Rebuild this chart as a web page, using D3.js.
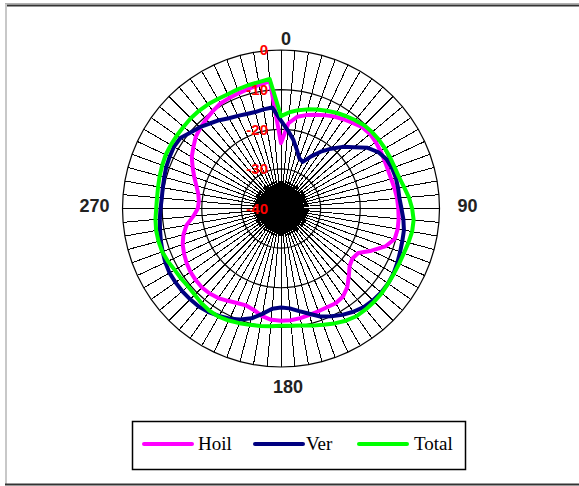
<!DOCTYPE html>
<html>
<head>
<meta charset="utf-8">
<script src="https://cdn.jsdelivr.net/npm/d3@7"></script>
<style>
  body { margin: 0; background: #fff; }
  svg { display: block; }
</style>
</head>
<body>
<div id="chart"></div>
<script>
// angles in degrees, one point every 5 deg
const angles = d3.range(0, 360, 5);

const hoil = [
  -23.5, -18.4, -16.5, -15.6, -14.8, -14.0, -13.2, -12.5, -11.8, -11.0, -10.7, -10.8,
  -11.0, -11.2, -11.3, -11.2, -10.9, -10.6, -10.4, -10.2, -10.1, -10.3, -12.0, -14.8,
  -17.5, -18.0, -17.4, -15.8, -14.0, -12.8, -12.4, -12.5, -12.4, -12.2, -11.9, -11.7,
  -11.7, -11.8, -12.4, -13.5, -14.0, -13.7, -13.1, -12.4, -12.0, -11.8, -11.9, -12.1,
  -12.5, -13.0, -13.6, -14.5, -15.8, -17.8, -19.0, -19.2, -18.8, -17.9, -16.7, -15.4,
  -14.0, -13.0, -11.9, -11.2, -10.6, -10.0, -9.4, -9.2, -9.0, -8.7, -8.3, -7.8
];

const ver = [
  -17.8, -20.2, -22.3, -24.6, -26.5, -27.0, -24.8, -22.5, -20.3, -18.0, -16.0, -13.3,
  -11.6, -10.6, -10.2, -10.0, -10.0, -10.0, -9.6, -9.0, -8.5, -8.3, -8.0, -7.6,
  -7.2, -7.0, -7.0, -7.2, -7.5, -8.2, -9.0, -10.0, -11.0, -12.5, -13.7, -14.7,
  -15.0, -14.6, -13.0, -11.3, -10.2, -9.3, -8.7, -8.1, -7.7, -7.6, -7.5, -7.5,
  -7.5, -7.8, -8.2, -8.6, -9.0, -9.3, -9.6, -9.8, -9.7, -9.5, -9.2, -9.0,
  -8.8, -9.0, -10.2, -11.0, -12.0, -12.8, -13.7, -14.2, -14.6, -14.8, -14.6, -14.4
];

const total = [
  -16.7, -15.6, -14.8, -14.1, -13.4, -12.8, -12.1, -11.5, -10.9, -10.3, -10.0, -9.8,
  -9.7, -9.6, -9.5, -9.2, -8.5, -7.6, -6.9, -6.4, -6.4, -6.7, -7.0, -7.1,
  -7.1, -7.0, -6.8, -6.75, -6.75, -6.8, -7.3, -8.0, -8.8, -9.4, -10.0, -10.3,
  -10.4, -10.2, -9.9, -9.6, -9.2, -8.8, -8.5, -8.5, -8.8, -9.2, -9.4, -9.2,
  -9.0, -8.5, -8.1, -8.0, -8.0, -8.2, -8.5, -8.6, -8.5, -8.3, -8.1, -7.9,
  -7.9, -7.9, -7.9, -7.8, -7.8, -7.9, -8.1, -8.2, -8.0, -7.8, -7.6, -7.2
];

const radialTicks = [0, -10, -20, -30, -40];
const dirTicks = [0, 90, 180, 270];
const seriesNames = ["Hoil", "Ver", "Total"];
const seriesColors = ["#ff00ff", "#000080", "#00ff00"];

const width = 579, height = 486;
const cx = 281, cy = 208.5, R = 158.5;

const svg = d3.select("#chart")
  .append("svg")
  .attr("width", width)
  .attr("height", height);

// window frame
svg.append("line").attr("x1", 5).attr("x2", width).attr("y1", 3.5).attr("y2", 3.5)
  .attr("stroke", "#b0b0b0").attr("stroke-width", 1);
svg.append("line").attr("x1", 5).attr("x2", width).attr("y1", 5.5).attr("y2", 5.5)
  .attr("stroke", "#333").attr("stroke-width", 2);
svg.append("line").attr("x1", 6).attr("x2", 6).attr("y1", 4).attr("y2", 485)
  .attr("stroke", "#c8c8c8").attr("stroke-width", 2);
svg.append("line").attr("x1", 5).attr("x2", width).attr("y1", 484.5).attr("y2", 484.5)
  .attr("stroke", "#333").attr("stroke-width", 2);

const rScale = d3.scaleLinear().domain([-40, 0]).range([0, R]);
const aScale = d3.scaleLinear().domain([0, 360]).range([0, 2 * Math.PI]);

const gr = svg.append("g")
  .attr("transform", "translate(" + cx + "," + cy + ")");

// spokes
gr.append("g").selectAll("line")
  .data(angles)
  .join("line")
  .attr("x1", 0).attr("y1", 0)
  .attr("x2", d => rScale(0) * Math.sin(aScale(d)))
  .attr("y2", d => -rScale(0) * Math.cos(aScale(d)))
  .attr("stroke", "#000")
  .attr("stroke-width", 1)
  .attr("shape-rendering", "crispEdges");

// heavier spoke ends near the centre, where the grid closes up into a dark blot
gr.append("g").selectAll("line")
  .data(angles)
  .join("line")
  .attr("x1", 0).attr("y1", 0)
  .attr("x2", d => rScale(-33) * Math.sin(aScale(d)))
  .attr("y2", d => -rScale(-33) * Math.cos(aScale(d)))
  .attr("stroke", "#000")
  .attr("stroke-width", 2)
  .attr("shape-rendering", "crispEdges");

// rings (polygons like the radar grid)
const ring = d3.lineRadial()
  .angle(d => aScale(d.a))
  .radius(d => rScale(d.v))
  .curve(d3.curveLinearClosed);

gr.append("g").selectAll("path")
  .data(radialTicks.filter(t => t > -40))
  .join("path")
  .attr("d", t => ring(angles.map(a => ({a: a, v: t}))))
  .attr("fill", "none")
  .attr("stroke", "#000")
  .attr("stroke-width", 1.2);

// series
const series = [hoil, ver, total];
gr.append("g").selectAll("path")
  .data(series)
  .join("path")
  .attr("d", s => ring(s.map((v, i) => ({a: angles[i], v: v}))))
  .attr("fill", "none")
  .attr("stroke", (s, i) => seriesColors[i])
  .attr("stroke-width", 4)
  .attr("stroke-linejoin", "round");

// radial value labels (red)
gr.append("g").selectAll("text")
  .data(radialTicks)
  .join("text")
  .attr("x", -13)
  .attr("y", t => -rScale(t))
  .attr("dy", "0.36em")
  .attr("text-anchor", "end")
  .attr("fill", "#ff0000")
  .attr("font-family", "Arial, 'Liberation Sans', sans-serif")
  .attr("font-weight", "bold")
  .attr("font-size", 15)
  .text(t => t);

// direction labels
const dirPos = {
  0:   {x: 5,  y: -R - 5.5, anchor: "middle"},
  90:  {x: R + 18, y: 3, anchor: "start"},
  180: {x: 7, y: R + 26, anchor: "middle"},
  270: {x: -R - 13, y: 3, anchor: "end"}
};
gr.append("g").selectAll("text")
  .data(dirTicks)
  .join("text")
  .attr("x", d => dirPos[d].x)
  .attr("y", d => dirPos[d].y)
  .attr("text-anchor", d => dirPos[d].anchor)
  .attr("fill", "#222")
  .attr("font-family", "Arial, 'Liberation Sans', sans-serif")
  .attr("font-weight", "bold")
  .attr("font-size", 18)
  .text(d => d);

// legend
const legend = svg.append("g");
legend.append("rect")
  .attr("x", 132.5).attr("y", 421.5)
  .attr("width", 333).attr("height", 48)
  .attr("fill", "#fff")
  .attr("stroke", "#000")
  .attr("stroke-width", 1.5);

const itemX = [143, 254, 358];
const textGap = [55, 52, 56];
const items = legend.selectAll("g.item")
  .data(seriesNames)
  .join("g")
  .attr("class", "item")
  .attr("transform", (d, i) => "translate(" + itemX[i] + ",444)");

items.append("line")
  .attr("x1", 1).attr("x2", 49)
  .attr("stroke", (d, i) => seriesColors[i])
  .attr("stroke-width", 4)
  .attr("stroke-linecap", "round");

items.append("text")
  .attr("x", (d, i) => textGap[i])
  .attr("y", 6)
  .attr("font-family", "'Times New Roman', 'Liberation Serif', serif")
  .attr("font-size", 19)
  .attr("fill", "#000")
  .text(d => d);
</script>
</body>
</html>
